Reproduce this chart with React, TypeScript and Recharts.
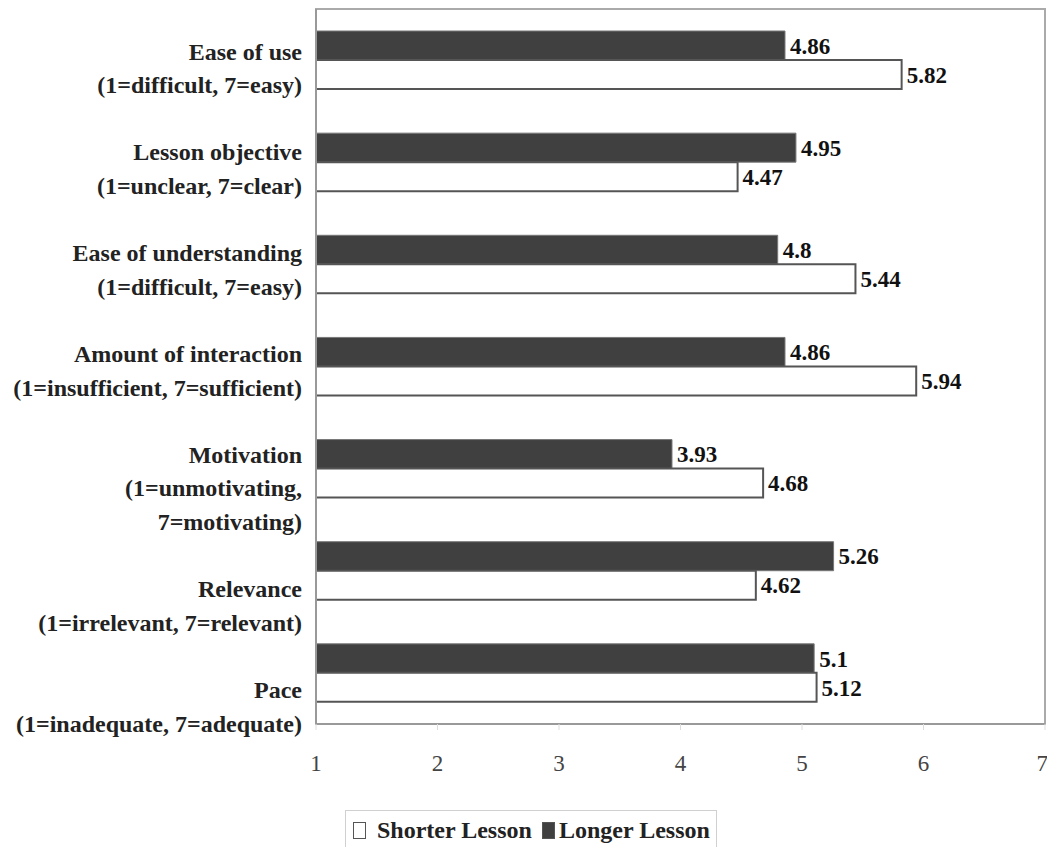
import { BarChart, Bar, XAxis, YAxis, LabelList, ReferenceArea, ReferenceLine } from 'recharts'

const categories = [
  ['Ease of use', '(1=difficult, 7=easy)'],
  ['Lesson objective', '(1=unclear, 7=clear)'],
  ['Ease of understanding', '(1=difficult, 7=easy)'],
  ['Amount of interaction', '(1=insufficient, 7=sufficient)'],
  ['Motivation', '(1=unmotivating,', '7=motivating)'],
  ['Relevance', '(1=irrelevant, 7=relevant)'],
  ['Pace', '(1=inadequate, 7=adequate)'],
]
const longerLesson = [4.86, 4.95, 4.8, 4.86, 3.93, 5.26, 5.1]
const shorterLesson = [5.82, 4.47, 5.44, 5.94, 4.68, 4.62, 5.12]
const xTicks = [1, 2, 3, 4, 5, 6, 7]

const FONT = '"Liberation Serif", "Times New Roman", serif'
const PLOT_H = 715
const BAND = PLOT_H / categories.length
const LINE_H = 33.6

const data = categories.map((lines, i) => ({
  name: lines.join('|'),
  longer: longerLesson[i],
  shorter: shorterLesson[i],
}))

// the labels flow like one block of text: one blank line between categories
const lineStart = categories.map((_, i) =>
  categories.slice(0, i).reduce((s, l) => s + l.length + 1, 0)
)

function CategoryTick(props: any) {
  const { x, y, payload, index } = props
  const lines: string[] = String(payload.value).split('|')
  const top = y - (index + 0.5) * BAND
  const start = top + 45 + lineStart[index] * LINE_H
  return (
    <text x={x - 6} y={start} textAnchor="end" fontFamily={FONT} fontWeight="bold" fontSize={24} fill="#222">
      {lines.map((l, i) => (
        <tspan key={i} x={x - 6} y={start + i * LINE_H} dominantBaseline="middle">
          {l}
        </tspan>
      ))}
    </text>
  )
}

function LegendBox() {
  const item = (fill: string, label: string, gap: number, after: number) => (
    <span style={{ display: 'inline-flex', alignItems: 'center', marginRight: after }}>
      <span
        style={{
          display: 'inline-block', width: 13, height: 17, background: fill,
          border: '1.5px solid #555', marginRight: gap, boxSizing: 'border-box',
        }}
      />
      {label}
    </span>
  )
  // fixed so it is clipped by the window like the original, without adding scroll height
  return (
    <div
      style={{
        position: 'fixed', left: 345, top: 810,
        border: '1px solid #d0d0d0', padding: '6px 6px 8px 7px', whiteSpace: 'nowrap',
        fontFamily: FONT, fontWeight: 'bold', fontSize: 24, color: '#222', background: '#fff',
        lineHeight: '26px',
      }}
    >
      {item('#fff', 'Shorter Lesson', 11, 10)}
      {item('#404040', 'Longer Lesson', 4, 0)}
    </div>
  )
}

export default function App() {
  return (
    <div style={{ width: 1040, height: 831 }}>
      <BarChart
        width={1040}
        height={831}
        data={data}
        layout="vertical"
        margin={{ top: 1, right: 3, left: 0, bottom: 831 - 1 - PLOT_H - 60 }}
        barGap={0}
        barSize={29}
      >
        <XAxis
          type="number"
          domain={[1, 7]}
          ticks={xTicks}
          allowDataOverflow
          axisLine={{ stroke: '#999', strokeWidth: 2 }}
          tickLine={{ stroke: '#ddd' }}
          tickSize={6}
          tickMargin={25}
          tick={{ fill: '#444', fontSize: 23, fontFamily: FONT }}
          height={60}
        />
        <YAxis
          type="category"
          dataKey="name"
          width={308}
          axisLine={{ stroke: '#999', strokeWidth: 2 }}
          tickLine={false}
          tick={<CategoryTick />}
          interval={0}
        />
        <ReferenceArea x1={1} x2={7} fill="none" stroke="#aaa" strokeWidth={2} ifOverflow="visible" />
        <ReferenceLine x={7} stroke="#aaa" strokeWidth={2} ifOverflow="visible" />
        <Bar dataKey="longer" name="Longer Lesson" fill="#404040" stroke="#777" strokeWidth={1} isAnimationActive={false}>
          <LabelList dataKey="longer" position="right" offset={5} fill="#111" fontSize={23} fontWeight="bold" fontFamily={FONT} />
        </Bar>
        <Bar dataKey="shorter" name="Shorter Lesson" fill="#fff" stroke="#555" strokeWidth={2} isAnimationActive={false}>
          <LabelList dataKey="shorter" position="right" offset={5} fill="#111" fontSize={23} fontWeight="bold" fontFamily={FONT} />
        </Bar>
      </BarChart>
      <LegendBox />
    </div>
  )
}
